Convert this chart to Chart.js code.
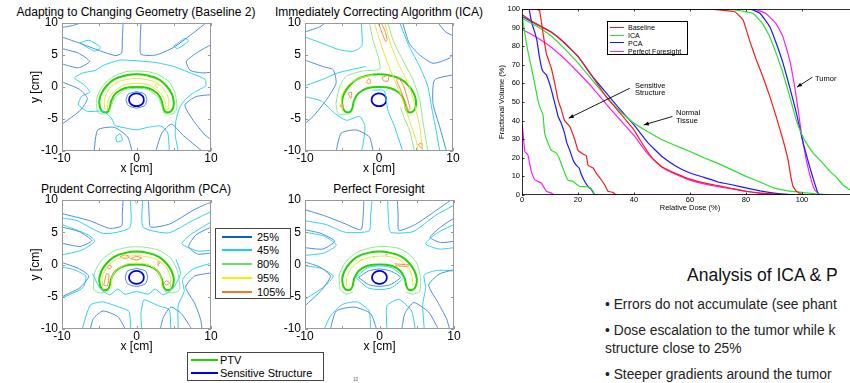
<!DOCTYPE html>
<html>
<head>
<meta charset="utf-8">
<script src="https://cdn.jsdelivr.net/npm/chart.js@4.4.1/dist/chart.umd.min.js"></script>
<style>
  html, body { margin: 0; padding: 0; background: #fff; }
  body { width: 850px; height: 383px; position: relative; overflow: hidden; font-family: "Liberation Sans", Arial, sans-serif; color: #000; }
  .pane { position: absolute; }
  .txt { position: absolute; white-space: nowrap; }
  .ttl { font-size: 12px; line-height: 14px; transform: translateX(-50%); }
  .lgd { position: absolute; background: #fff; border: 1px solid #444; box-sizing: border-box; }
  .lgd .row { position: absolute; left: 0; right: 0; height: 0; }
  .lgd .sw { position: absolute; height: 0; }
  .lgd span { position: absolute; transform: translateY(-50%); white-space: nowrap; }
  .note { font-size: 7.5px; line-height: 8px; }
  .slide { color: #222; }
</style>
</head>
<body>

<!-- contour panel titles -->
<div class="txt ttl" style="left:136px; top:5px;">Adapting to Changing Geometry (Baseline 2)</div>
<div class="txt ttl" style="left:379px; top:5px;">Immediately Correcting Algorithm (ICA)</div>
<div class="txt ttl" style="left:136px; top:182px;">Prudent Correcting Algorithm (PCA)</div>
<div class="txt ttl" style="left:379px; top:182px;">Perfect Foresight</div>

<div class="pane" style="left:28px; top:0px;"><canvas id="c-base" width="191" height="176"></canvas></div>
<div class="pane" style="left:275px; top:0px;"><canvas id="c-ica" width="186" height="176"></canvas></div>
<div class="pane" style="left:28px; top:177px;"><canvas id="c-pca" width="191" height="177"></canvas></div>
<div class="pane" style="left:275px; top:177px;"><canvas id="c-pf" width="187" height="177"></canvas></div>

<!-- dose level legend -->
<div class="lgd" id="lgd-levels" style="left:215px; top:228px; width:76px; height:71px; font-size:11px;"></div>
<!-- structure legend -->
<div class="lgd" id="lgd-struct" style="left:187px; top:352px; width:137px; height:29px; font-size:11px;"></div>
<div class="txt" style="left:353px; top:377px; font-size:4.5px; color:#555;">10</div>

<!-- DVH -->
<div class="pane" style="left:497px; top:0px;"><canvas id="c-dvh" width="361" height="212"></canvas></div>
<div class="lgd" id="lgd-dvh" style="left:607px; top:21px; width:81px; height:34px; font-size:7px; border-color:#000;"></div>
<div class="txt note" style="left:635px; top:82px;">Sensitive</div>
<div class="txt note" style="left:635px; top:89px;">Structure</div>
<div class="txt note" style="left:676px; top:109px;">Normal</div>
<div class="txt note" style="left:676px; top:117px;">Tissue</div>
<div class="txt note" style="left:815px; top:75px;">Tumor</div>

<!-- slide text -->
<div class="txt slide" style="left:687px; top:264px; font-size:17.5px; line-height:22px; color:#111;">Analysis of ICA &amp; P</div>
<div class="txt slide" style="left:605px; top:297px; font-size:13.8px; line-height:16px;">• Errors do not accumulate (see phant</div>
<div class="txt slide" style="left:605px; top:323px; font-size:13.8px; line-height:16px;">• Dose escalation to the tumor while k</div>
<div class="txt slide" style="left:605px; top:341px; font-size:13.8px; line-height:16px;">structure close to 25%</div>
<div class="txt slide" style="left:605px; top:367px; font-size:13.8px; line-height:16px;">• Steeper gradients around the tumor</div>

<script>
// ---------- DVH data: [dose %, volume %] ----------
const baseSens = [[0,100],[5,100],[6.3,99],[7.5,87],[8.7,76],[10.5,68],[11.7,60],[12.9,51],[14,46],[15.2,40],[17,37],[18.8,30],[20,24],[21.8,22],[23,21],[23.6,16],[25.4,14.5],[26.5,11.8],[28.3,8.2],[29.5,5.5],[30.7,2],[32.5,1.4],[33.7,0],[40,0]];
const baseNorm = [[0,97],[5,92],[10,88],[15,82],[20,74.5],[25,64],[30,53],[35,44],[40,35],[42,30],[45,23],[47,19],[50,15],[55,11.5],[60,8.5],[65,6.5],[70,5],[75,3.5],[80,2],[85,1],[90,0.5],[95,0]];
const baseTum  = [[0,100],[66,100],[76,98.5],[79,94],[81.3,83],[83.7,72.6],[86,63.7],[88.5,53],[90.8,42],[93.2,29.7],[95,19],[96,10],[96.8,4.7],[98,2],[100,0.3],[102,0]];

const icaSens = [[0,97],[1,87],[2,78],[3.3,69],[4.5,60],[5.7,51],[6.3,47.6],[7.5,43],[8.1,33],[9.3,28],[10.5,24],[12.3,22.5],[13.5,19],[15.2,12],[16.4,8],[18.2,7.3],[20.6,4.6],[24,4.3],[25.4,2],[26,0],[30,0]];
const icaNorm = [[0,95],[5,91],[10,86],[15,79],[20,71],[25,62],[30,53],[35,45],[40,38.6],[45,34],[50,29.7],[55,26.5],[60,23.4],[65,20],[70,17],[75,13.5],[80,10],[85,7],[90,3.8],[95,2.2],[100,1.4],[105,0.6],[110,0]];
const icaTum  = [[0,100],[66,100],[76,99.5],[82.5,97.7],[86,92],[88.5,85],[90.8,76],[93.2,65.5],[95.6,53],[98,40],[99.8,33],[101.5,28],[104,22.5],[107.5,17],[110,12.7],[112,10],[114.6,5.5],[117,2.9],[119,1.5],[120,1]];

const pcaSens = [[0,100],[2.5,100],[3,96],[3.7,91.4],[4.5,87.8],[5.4,82.5],[6.1,75.3],[6.9,69],[7.5,66.4],[8.7,64.6],[9.6,61],[10.5,56.5],[11.7,49.4],[12.9,42.2],[14,38.6],[15.2,33.3],[16,28],[17,24.3],[18.2,19],[19.2,16.3],[20.4,14.5],[21.2,11],[22.4,7.3],[23.6,4.6],[24.8,2.9],[26,0],[30,0]];
const pcaNorm = [[0,96],[5,92],[10,88],[15,82],[20,74.5],[25,64],[30,55],[35,46],[40,37.7],[45,28],[50,20.7],[55,15.5],[60,11.8],[65,9.5],[70,7],[75,5.5],[80,3.8],[85,2.2],[90,1],[95,0.3],[100,0]];
const pcaTum  = [[0,100],[81.3,100],[85,97.7],[88.5,90.5],[90.8,81.6],[93.2,71],[95.6,58],[98,44],[100.4,28],[102.7,15.4],[104.5,6.4],[105.7,1],[106.3,0]];

const pfSens = [[0,38.6],[0.4,33],[1,23.4],[2.1,21.6],[3.3,12.7],[4.5,8.2],[5.7,7.3],[6.9,6.4],[8.7,2],[10.5,1],[11.7,0],[92,0]];
const pfNorm = [[0,89],[5,85],[10,80],[15,73.5],[20,66],[25,58],[30,49],[35,40.5],[40,32],[45,22],[50,15],[55,11],[60,8],[65,6],[70,4.5],[75,3.3],[80,2],[85,1],[90,0.3],[95,0]];
const pfTum  = [[0,100],[82.5,100],[87,97.7],[90.8,92],[93.2,85],[95.6,72.6],[97.4,58],[98.6,46],[99.8,33],[101.5,19],[103.3,8],[104.5,3],[106.3,0]];

const dvhNames = ["Baseline", "ICA", "PCA", "Perfect Foresight"];
const dvhColors = ["#ff1a1a", "#2fe02f", "#1a1aff", "#ff1aff"];
// annotation arrows [fromDose, fromVol, toDose, toVol]
const dvhArrows = [[38.5,57.4,16.7,41.3],[53.7,42.2,43.5,37.7],[103.7,63.3,98.2,58]];

// ---------- contour data (cm): flat x,y lists ----------
const ptvOutline = [-4.9,-3.3,-5,-2.2,-4.7,-1,-4,0.2,-3,1.2,-1.5,1.8,0,2,1.5,1.8,3,1.2,4,0.2,4.7,-1,5,-2.2,4.9,-3.3,4.5,-3.9,3.9,-3.9,3.6,-3.3,3.4,-2.2,2.8,-1,1.6,-0.2,0,0,-1.6,-0.2,-2.8,-1,-3.4,-2.2,-3.6,-3.3,-3.9,-3.9,-4.5,-3.9,-4.9,-3.3];
const sensOutline = [1,-2,0.87,-1.5,0.5,-1.13,0,-1,-0.5,-1.13,-0.87,-1.5,-1,-2,-0.87,-2.5,-0.5,-2.87,0,-3,0.5,-2.87,0.87,-2.5,1,-2];

const base25 = [
  [-10,7.8,-7.5,6.8,-5,5.7,-2.8,4.9,-2,5.3,-1.9,7.5,-1.8,10],
  [0.6,10,0.5,7,0.6,5.1,2.6,5.0,5,6.2,7.8,8.6,9.3,10],
  [10,6.6,8.3,5.5,6.7,4.0,7.2,2.6,8.8,2.2,10,2.3],
  [10,-1.2,8,-1.5,6.5,-2.8,7.6,-5.2,9.2,-7.5,10,-8.2],
  [8.8,-10,6.3,-7.6,4.7,-5.8,3.4,-7.2,2.6,-10],
  [-0.6,-10,-1.2,-7.8,-3,-6.3,-5.2,-6.7,-5.7,-10],
  [-10,-5.8,-7.5,-3.6,-6.6,-1.8,-7.6,-0.4,-10,0.8],
  [-10,3.6,-7.8,3.0,-6.3,4.0,-7.8,5.3,-10,6.0],
  [-10,9.3,-8.6,9.6,-7.5,10],
  [0,-0.7,1.1,-1.1,1.4,-2,1.1,-2.9,0,-3.3,-1.1,-2.9,-1.4,-2,-1.1,-1.1,0,-0.7]
];
const base45 = [
  [0,4.1,2.7,3.8,5,3.2,7.2,2.2,9.2,1.2,9.3,0.2,7.8,-0.8,6.6,-1.9,5.8,-3.2,5.3,-5.2,5.2,-7.5,5.6,-10],
  [4.4,-10,4.2,-7.2,3.3,-6.1,1.5,-6.3,0,-6.7,-1.5,-6.4,-2.9,-6,-3.3,-5,-4.4,-3.8,-6.6,-3.8,-7.8,-2.8,-7.4,-1.5,-6.3,-0.8,-7,0.3,-8.3,1.4,-7.2,2.2,-5.5,2.6,-4.4,3.4,-2.2,4.2,0,4.1],
  [-7.6,6.9,-6.4,7.3,-4.8,6.2,-5.6,5.6,-7.6,6.9],
  [5,6.4,6.5,7.6,7,7.2,5.5,6.0,5,6.4],
  [-2.8,-7.8,-2.2,-7.3,-1.9,-8.3,-2.6,-8.6,-2.8,-7.8]
];
const base80 = [
  [-5.3,-3.6,-5.3,-1.6,-4.4,0.4,-3,1.7,-1.4,2.4,0,2.5,1.5,2.4,3,1.9,4.4,0.8,5.2,-1,5.4,-3.4,4.9,-4.2,3.7,-4.1,3.4,-3,2.9,-1.6,1.5,-0.4,0,-0.2,-1.5,-0.4,-2.9,-1.6,-3.4,-3,-3.8,-4.1,-4.9,-4.2,-5.3,-3.6]
];
const base95 = [
  [-4.3,-3.4,-4.3,-1.8,-3.6,-0.2,-2.3,0.9,0,1.35,2.3,0.9,3.6,-0.2,4.3,-1.8,4.3,-3.4,3.9,-3.5,3.8,-2,3.1,-0.8,1.7,0.3,0,0.6,-1.7,0.3,-3.1,-0.8,-3.8,-2,-3.9,-3.5,-4.3,-3.4],
  [2.5,0.3,2.8,0.5,3.0,0.2,2.7,-0.1,2.5,0.3]
];
const base105 = [];

const ica25 = [
  [-10,8.6,-8,9.4,-7.3,10],
  [-10,4.2,-7.6,3.2,-6.2,2.7,-5.8,0.6,-7.1,-2,-8.9,-4.6,-10,-5.7],
  [-5.8,-10,-5.1,-7.2,-3.1,-6.7,-1.3,-7.8,-0.8,-10],
  [3.2,10,4.1,6.8,5.5,5,7.3,3.7,9.5,4.5,10,5.2],
  [8,10,9,8.6,10,8.0],
  [10,1.9,7.5,1.1,7.3,-2.6,8.2,-6.2,9.1,-10]
];
const ica45 = [
  [-10,7.8,-7.6,6.8,-5.3,5.8,-3.4,5.6,-2.3,6.5,-2.4,10],
  [-10,0.2,-7.6,1.2,-5.6,2.2,-3.4,2.8,-1.8,3.2],
  [-10,-1.5,-7.8,-2.2,-6,-4.1,-4.4,-5.2,-2.6,-4.6,-1.9,-6.2,-2.2,-9.3,-2.4,-10],
  [-0.9,-0.5,0.7,-0.6,1.2,-3.6,2.1,-6.2,3.2,-10],
  [2.8,10,4.1,6.3,5.5,3.2,6.6,0.1,7.1,-3.1,7.7,-6.7,8.2,-10]
];
const ica80 = [
  [-1.3,10,-0.8,7.3,-0.1,4.7,0.1,2.8,-2.2,2.5,-4.4,1.7,-5.3,0.1,-5.8,-2.6,-5.5,-4.2,-4,-4.2],
  [2.9,-3.2,3.4,-4.8,4.1,-6.7,4.8,-10],
  [1.2,10,1.9,7.3,3.2,4.2,4.6,1.1,5.5,-2,5.9,-5.2,6.6,-10]
];
const ica95 = [
  [-0.6,10,0.1,7.3,1,4.2,2.1,1.1,3.2,-2,4.1,-5.2,5,-8.3,5.3,-10],
  [0.8,10,1.4,7.3,2.6,3.7,4.1,0.1,5,-3.6,5.5,-6.2,5.9,-10],
  [-4.9,-3.8,-5.1,-1.5,-4.2,0.3,-2.6,1.4,-0.8,1.9]
];
const ica105 = [
  [-0.1,10,0.4,8.5,0.9,7.1,1.1,7.4,0.8,8.8,0.3,10],
  [2.6,1.6,3.3,0.2,3.8,-1.6,4.2,-3.4,4.0,-3.7,3.5,-2.2,2.9,-0.4,2.4,1.0,2.6,1.6],
  [-1.7,0.9,-1.3,1.3,-1.1,0.7,-1.5,0.5,-1.7,0.9],
  [0.4,1.5,1.3,1.8,1.2,0.9,0.6,1.0,0.4,1.5],
  [-4.2,-1.0,-3.7,-0.8,-3.8,-1.8,-4.2,-1.0],
  [-5.3,-2.9,-4.9,-2.7,-4.9,-3.4,-5.3,-2.9],
  [5.3,-9,5.8,-8.7,5.8,-9.6,5.3,-9]
];

const pca25 = [
  [-10,7.9,-6.3,6.8,-3.6,5.6,-2,6,-1.9,8,-1.8,10],
  [1.6,10,1.7,7.5,1.9,5.8,4.5,6.3,7.6,8.4,9.4,9.4,10,9.6],
  [10,5.8,8,4.6,7,2.8,8.2,1.6,10,1.8],
  [10,-1.3,7.8,-1.8,6.6,-3.5,7.8,-6,8.6,-8.5,8.8,-10],
  [7.4,-10,6,-7.6,4.6,-6.6,3.6,-8.2,3.2,-10],
  [-1.5,-10,-2.5,-8.1,-4.5,-7.2,-5.8,-8.4,-6.2,-10],
  [-10,-5,-7.6,-3.6,-6.4,-1.8,-7.8,-0.6,-10,0.3],
  [-10,3.3,-7.6,2.8,-6,3.7,-7.7,5.1,-10,5.8],
  [0,-0.6,1.2,-1.0,1.5,-2,1.2,-3.0,0,-3.4,-1.2,-3.0,-1.5,-2,-1.2,-1.0,0,-0.6]
];
const pca45 = [
  [-0.8,10,-0.9,5.7,-4.4,4.8,-8,6.8,-10,7.2],
  [0.8,10,0.9,5.8,4.3,4.9,7.5,6.8,10,8.2],
  [10,6.6,7.2,4.6,6.1,3.2,8.2,2.1,10,2.2],
  [10,0.2,7.6,-0.7,6.2,-2.3,6.4,-4.2,5.6,-6.3,5.6,-10],
  [4.6,-10,4.4,-7.0,3.2,-6.5,2.0,-5.9,1,-5.5,0.6,-7.5,0.7,-10],
  [-0.8,-10,-1,-7.3,-2.6,-6.5,-4.6,-5.8,-6.2,-6.3,-7.3,-10],
  [-10,-5.2,-7.2,-3.6,-6.8,-1.8,-8.4,-0.8,-10,-0.4],
  [-10,1.5,-7.4,2.2,-5.6,3.6,-6.5,4.6,-10,6.2],
  [-5.9,-1.4,-4.9,-3.7,-3.6,-4.7,-2.5,-3.8,-1.6,-4.6,0,-4.2,1.6,-4.6,2.5,-3.8,3.6,-4.7,4.9,-3.7,5.9,-1.4,5.3,0.8]
];
const pca80 = [
  [-5.8,-3.9,-5.6,-1.2,-4.6,0.8,-3,2.1,-1,2.7,1,2.7,3,2.2,4.6,1,5.5,-1,5.8,-3.9,5,-4.4,3.8,-4.2],
  [-3.8,-4.2,-5,-4.4,-5.8,-3.9],
  [-0.2,10,0,9.3]
];
const pca95 = [
  [-4.5,-3.9,-4.6,-2,-3.9,-0.3,-2.5,0.9,0,1.4,2.5,0.9,3.9,-0.3,4.6,-2,4.5,-3.9],
  [-3.4,-3.6,-3.3,-2,-2.6,-0.7,-1.2,0.1,0,0.2,1.2,0.1,2.6,-0.7,3.3,-2,3.4,-3.6]
];
const pca105 = [
  [-2.2,1.2,-1.5,1.5,-0.9,1.2,-1.5,0.9,-2.2,1.2],
  [-0.8,0.9,0,1.25,0.7,1.0,0,0.7,-0.8,0.9],
  [-3.9,-0.3,-3.5,-0.1,-3.4,-0.5,-3.8,-0.7,-3.9,-0.3],
  [-4.4,-3.2,-4.0,-1.4,-3.7,-1.6,-3.9,-3.3,-4.4,-3.2],
  [2.9,-0.3,2.9,0.5,3.2,0.3,2.9,0.0],
  [3.7,-2.8,4.1,-2.5,4.4,-2.9,4.0,-3.2,3.7,-2.8]
];

const pf25 = [
  [-10,8.5,-7.5,7.6,-5,6.5,-2.5,5.4,-2.2,7.5,-2.1,10],
  [2.4,10,2.5,7.5,2.6,5.3,4.8,6.2,7.5,8.3,9.6,10],
  [10,7.2,8.2,5.8,6.8,4.2,8.2,3.4,10,3.6],
  [10,-0.8,8,-1.5,6.6,-3.2,7.8,-5.8,9,-8.4,9.4,-10],
  [7.9,-10,6.6,-7.4,4.6,-5.9,3.4,-7.6,3,-10],
  [-0.4,-10,-1.2,-7.6,-3.4,-6.6,-5.8,-7.2,-6.6,-10],
  [-10,-6.4,-7.8,-4,-6.6,-1.8,-8,-0.4,-10,0.4],
  [-10,2.6,-7.6,2.4,-6,3.6,-7.8,4.8,-10,5.4],
  [-2.8,-2,-1.5,-1.0,0,-0.7,1.5,-1.0,2.8,-2,1.5,-3.1,0,-3.4,-1.5,-3.1,-2.8,-2]
];
const pf45 = [
  [-10,6.8,-7.2,6.2,-4.6,5,-1.4,5.2,-1.2,7.5,-1.0,10],
  [1.1,10,1.2,7,1.5,5.0,4.5,5.1,7.5,7.6,10,9.2],
  [10,6.2,7.6,4.8,6.2,3.2,8,2.4,10,2.6],
  [10,-1.0,7.8,-0.9,6,-1.6,6.2,-3.6,5.8,-6.2,6,-10],
  [4.8,-10,4.3,-7.2,2.6,-5.4,1.0,-6.4,1.0,-10],
  [-1.2,-10,-1.4,-7.2,-3.0,-5.8,-5,-6.2,-6.6,-8,-7.4,-10],
  [-10,-5.4,-7.4,-3.4,-6.2,-1.8,-7.8,-0.6,-10,-0.2],
  [-10,1.4,-7.4,1.8,-5.8,3.0,-7.4,4.4,-10,5.0],
  [-3.2,-2,-1.6,-0.5,0,-0.2,1.6,-0.5,3.2,-2,1.6,-3.6,0,-3.9,-1.6,-3.6,-3.2,-2]
];
const pf80 = [
  [-5.3,-3.9,-5.4,-1.6,-4.6,0.3,-3.2,1.8,-1.2,2.6,0.6,2.8,2.6,2.5,4,1.6,5,0.2,5.5,-2,5.4,-4.2,4.5,-4.6,3.6,-4.3],
  [-3.6,-4.3,-4.5,-4.6,-5.3,-3.9]
];
const pf95 = [
  [-4.4,-3.5,-4.4,-2,-3.8,-0.6,-2.6,0.6,-1,1.2,0.8,1.3,2.4,0.9,3.6,-0.1,4.3,-1.5,4.5,-3.3]
];
const pf105 = [
  [2,0.1,4,-0.05],
  [2.1,-0.2,3.9,-0.3],
  [-2.5,0.7,-2.2,0.8],
  [0.8,1.5,1.1,1.5],
  [-3.6,-3.3,-3.3,-3.2],
  [-0.8,1.1,-0.6,1.2]
];

const levelNames = ["25%", "45%", "80%", "95%", "105%"];
const levelColors = ["#4a8de6", "#2bd2ef", "#8fe68f", "#e6e63a", "#f08c46"];
const levelKeyColors = ["#0a5fd6", "#12d3f2", "#66e066", "#f0f000", "#f07a22"];
const structNames = ["PTV", "Sensitive Structure"];
const structColors = ["#22d400", "#0000e6"];

// ---------- helpers ----------
Chart.defaults.font.family = "'Liberation Sans', Arial, sans-serif";
Chart.defaults.color = "#000";

const toPts = (flat) => { const out = []; for (let i = 0; i < flat.length; i += 2) out.push({ x: flat[i], y: flat[i + 1] }); return out; };
const pairPts = (pairs) => pairs.map(p => ({ x: p[0], y: p[1] }));
const path = (data, color, width, tension) => ({
  data, showLine: true, borderColor: color, backgroundColor: color,
  borderWidth: width, pointRadius: 0, fill: false, tension: tension ?? 0.15,
});

// box around the plot area plus inward tick marks
const framePlugin = {
  id: "frame",
  afterDatasetsDraw(chart, args, opts) {
    const { ctx, chartArea: a, scales } = chart;
    ctx.save();
    ctx.strokeStyle = opts.color; ctx.lineWidth = opts.width;
    ctx.strokeRect(a.left + 0.5, a.top + 0.5, a.width - 1, a.height - 1);
    const len = opts.tick;
    ctx.beginPath();
    scales.x.ticks.forEach(t => {
      const px = Math.round(scales.x.getPixelForValue(t.value)) + 0.5;
      ctx.moveTo(px, a.bottom); ctx.lineTo(px, a.bottom - len);
      ctx.moveTo(px, a.top); ctx.lineTo(px, a.top + len);
    });
    scales.y.ticks.forEach(t => {
      const py = Math.round(scales.y.getPixelForValue(t.value)) + 0.5;
      ctx.moveTo(a.left, py); ctx.lineTo(a.left + len, py);
      ctx.moveTo(a.right, py); ctx.lineTo(a.right - len, py);
    });
    ctx.stroke();
    ctx.restore();
  },
};

const arrowPlugin = {
  id: "arrows",
  afterDatasetsDraw(chart) {
    const { ctx, scales: { x, y } } = chart;
    ctx.save();
    ctx.strokeStyle = "#000"; ctx.fillStyle = "#000"; ctx.lineWidth = 0.9;
    dvhArrows.forEach(a => {
      const x1 = x.getPixelForValue(a[0]), y1 = y.getPixelForValue(a[1]);
      const x2 = x.getPixelForValue(a[2]), y2 = y.getPixelForValue(a[3]);
      const ang = Math.atan2(y2 - y1, x2 - x1);
      ctx.beginPath(); ctx.moveTo(x1, y1); ctx.lineTo(x2, y2); ctx.stroke();
      ctx.beginPath();
      ctx.moveTo(x2, y2);
      ctx.lineTo(x2 - 5 * Math.cos(ang) + 2 * Math.sin(ang), y2 - 5 * Math.sin(ang) - 2 * Math.cos(ang));
      ctx.lineTo(x2 - 5 * Math.cos(ang) - 2 * Math.sin(ang), y2 - 5 * Math.sin(ang) + 2 * Math.cos(ang));
      ctx.closePath(); ctx.fill();
    });
    ctx.restore();
  },
};

function contourChart(id, levels, yWidth, showYTitle) {
  const datasets = [];
  levels.forEach((lines, i) => lines.forEach(l => datasets.push(path(toPts(l), levelColors[i], 1, 0.2))));
  datasets.push(path(toPts(ptvOutline), structColors[0], 2, 0.3));
  datasets.push(path(toPts(sensOutline), structColors[1], 1.8, 0.4));

  const tickFont = { size: 12 };
  new Chart(document.getElementById(id), {
    type: "scatter",
    data: { datasets },
    plugins: [framePlugin],
    options: {
      responsive: false, animation: false, events: [],
      layout: { padding: { top: 23, right: 8, bottom: 0, left: 0 } },
      plugins: { legend: { display: false }, tooltip: { enabled: false }, frame: { color: "#999", width: 1, tick: 3 } },
      scales: {
        x: {
          type: "linear", min: -10, max: 10,
          ticks: { stepSize: 5, autoSkip: false, maxRotation: 0, padding: 0, font: tickFont, callback: v => (v % 10 === 0 ? v : "") },
          grid: { display: false, drawTicks: false }, border: { display: false },
          title: { display: true, text: "x [cm]", padding: 0, font: { size: 12 } },
          afterFit: s => { s.height = 25; },
        },
        y: {
          type: "linear", min: -10, max: 10,
          ticks: { stepSize: 5, autoSkip: false, padding: 4, font: tickFont },
          grid: { display: false, drawTicks: false }, border: { display: false },
          title: { display: showYTitle, text: "y [cm]", padding: 0, font: { size: 12 } },
          afterFit: s => { s.width = yWidth; },
        },
      },
    },
  });
}

contourChart("c-base", [base25, base45, base80, base95, base105], 34, true);
contourChart("c-ica",  [ica25, ica45, ica80, ica95, ica105], 30, false);
contourChart("c-pca",  [pca25, pca45, pca80, pca95, pca105], 34, true);
contourChart("c-pf",   [pf25, pf45, pf80, pf95, pf105], 30, false);

// ---------- DVH ----------
const dvhCurves = [
  [baseSens, baseNorm, baseTum],
  [icaSens, icaNorm, icaTum],
  [pcaSens, pcaNorm, pcaTum],
  [pfSens, pfNorm, pfTum],
];
const dvhSets = [];
dvhCurves.forEach((curves, i) => curves.forEach(c => dvhSets.push(path(pairPts(c), dvhColors[i], 1.2, 0.1))));

const smallFont = { size: 7.5 };
new Chart(document.getElementById("c-dvh"), {
  type: "scatter",
  data: { datasets: dvhSets },
  plugins: [framePlugin, arrowPlugin],
  options: {
    responsive: false, animation: false, events: [],
    layout: { padding: { top: 9, right: 0, bottom: 0, left: 0 } },
    plugins: { legend: { display: false }, tooltip: { enabled: false }, frame: { color: "#000", width: 0.8, tick: 2.5 } },
    scales: {
      x: {
        type: "linear", min: 0, max: 120,
        ticks: { stepSize: 20, autoSkip: false, maxRotation: 0, padding: 0, font: smallFont, callback: v => (v < 120 ? v : "") },
        grid: { display: false, drawTicks: false }, border: { display: false },
        title: { display: true, text: "Relative Dose (%)", padding: 0, font: smallFont },
        afterFit: s => { s.height = 17; },
      },
      y: {
        type: "linear", min: 0, max: 100,
        ticks: { stepSize: 10, autoSkip: false, padding: 2, font: smallFont },
        grid: { display: false, drawTicks: false }, border: { display: false },
        title: { display: true, text: "Fractional Volume (%)", padding: 0, font: smallFont },
        afterFit: s => { s.width = 25; },
      },
    },
  },
});

// ---------- HTML legends ----------
function fillLegend(id, names, colors, rows, lineLeft, lineWidth, lineThick, textLeft) {
  const box = document.getElementById(id);
  names.forEach((n, i) => {
    const row = document.createElement("div");
    row.className = "row";
    row.style.top = rows[i] + "px";
    row.innerHTML = `<div class="sw" style="left:${lineLeft}px;width:${lineWidth}px;border-top:${lineThick}px solid ${colors[i]};margin-top:-${lineThick / 2}px"></div><span style="left:${textLeft}px">${n}</span>`;
    box.appendChild(row);
  });
}
fillLegend("lgd-levels", levelNames, levelKeyColors, [7.5, 21, 35, 48.5, 62.5], 6, 30, 2, 41);
fillLegend("lgd-struct", structNames, structColors, [7, 20], 3, 27, 2, 32);
fillLegend("lgd-dvh", dvhNames, dvhColors, [5, 13, 20.5, 29], 2, 14, 1, 20);
</script>
</body>
</html>
